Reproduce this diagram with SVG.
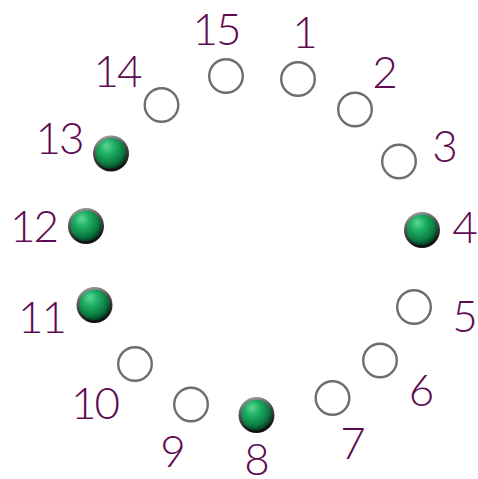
<svg xmlns="http://www.w3.org/2000/svg" width="478" height="479" viewBox="0 0 478 479">
<defs>
<linearGradient id="ring" x1="0" y1="0" x2="0.3" y2="1">
<stop offset="0" stop-color="#b0b0b0"/>
<stop offset="0.45" stop-color="#555"/>
<stop offset="1" stop-color="#111"/>
</linearGradient>
<radialGradient id="ball" cx="0.4" cy="0.35" r="0.7" fx="0.35" fy="0.25">
<stop offset="0" stop-color="#5fd894"/>
<stop offset="0.35" stop-color="#1fb065"/>
<stop offset="0.75" stop-color="#0b7a40"/>
<stop offset="1" stop-color="#02301a"/>
</radialGradient>
</defs>
<style>
.lbl{font-family:"Lato","Open Sans","Liberation Sans",sans-serif;font-weight:300;font-size:44px;fill:#5e0b52;text-anchor:middle}
.two{letter-spacing:-2px}
.off{fill:#fff;stroke:#6e6e6e;stroke-width:2.4}
.ring{fill:url(#ring)}
.on{fill:url(#ball)}
</style>
<rect width="478" height="479" fill="#fff"/>
<g id="connectors"/>
<g id="n1"><circle class="off" cx="298" cy="79" r="16.8"/><text class="lbl" x="305" y="48">1</text></g>
<g id="n2"><circle class="off" cx="355" cy="109.5" r="16.8"/><text class="lbl" x="385" y="88">2</text></g>
<g id="n3"><circle class="off" cx="399" cy="161.5" r="16.8"/><text class="lbl" x="445" y="162">3</text></g>
<g id="n4"><circle class="ring" cx="422" cy="230" r="18"/><circle class="on" cx="422" cy="230" r="15.3"/><text class="lbl" x="465" y="243">4</text></g>
<g id="n5"><circle class="off" cx="414" cy="307" r="16.8"/><text class="lbl" x="465" y="332">5</text></g>
<g id="n6"><circle class="off" cx="380" cy="360.5" r="16.8"/><text class="lbl" x="421.5" y="406">6</text></g>
<g id="n7"><circle class="off" cx="332.5" cy="398" r="16.8"/><text class="lbl" x="353" y="459">7</text></g>
<g id="n8"><circle class="ring" cx="256.5" cy="415" r="18"/><circle class="on" cx="256.5" cy="415" r="15.3"/><text class="lbl" x="257" y="475">8</text></g>
<g id="n9"><circle class="off" cx="191" cy="404.5" r="16.8"/><text class="lbl" x="173" y="467">9</text></g>
<g id="n10"><circle class="off" cx="135" cy="364" r="16.8"/><text class="lbl two" x="94.5" y="419">10</text></g>
<g id="n11"><circle class="ring" cx="94.5" cy="305" r="18"/><circle class="on" cx="94.5" cy="305" r="15.3"/><text class="lbl two" x="41.5" y="333">11</text></g>
<g id="n12"><circle class="ring" cx="86" cy="226" r="18"/><circle class="on" cx="86" cy="226" r="15.3"/><text class="lbl two" x="33.5" y="242">12</text></g>
<g id="n13"><circle class="ring" cx="111" cy="153.5" r="18"/><circle class="on" cx="111" cy="153.5" r="15.3"/><text class="lbl two" x="59" y="154">13</text></g>
<g id="n14"><circle class="off" cx="161.5" cy="105" r="16.8"/><text class="lbl two" x="117" y="87">14</text></g>
<g id="n15"><circle class="off" cx="226" cy="76" r="16.8"/><text class="lbl two" x="216" y="45">15</text></g>
</svg>
